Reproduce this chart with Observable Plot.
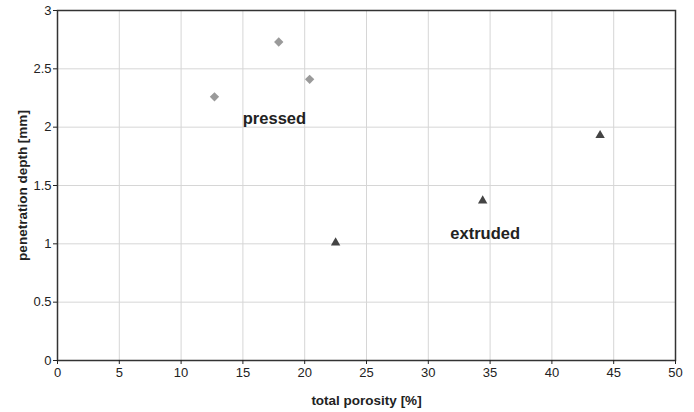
<!DOCTYPE html>
<html>
<head>
<meta charset="utf-8">
<script src="https://cdn.jsdelivr.net/npm/d3@7"></script>
<script src="https://cdn.jsdelivr.net/npm/@observablehq/plot@0.6"></script>
<style>
  body { margin: 0; background: #fff; }
  svg { font-family: "Liberation Sans", Arial, sans-serif; }
  g[aria-label="x-axis label"] text, g[aria-label="y-axis label"] text { font-weight: bold; font-size: 13.5px; }
</style>
</head>
<body>
<div id="chart"></div>
<script>
const pressedX = [12.7, 17.9, 20.4];
const pressedY = [2.26, 2.73, 2.41];
const extrudedX = [22.5, 34.4, 43.9];
const extrudedY = [1.01, 1.37, 1.93];
const xTicks = [0, 5, 10, 15, 20, 25, 30, 35, 40, 45, 50];
const yTicks = [0, 0.5, 1, 1.5, 2, 2.5, 3];
const groupLabels = ["pressed", "extruded"];
const labelX = [17.55, 34.6];
const labelY = [2.07, 1.09];

const pressed = pressedX.map((x, i) => ({x, y: pressedY[i]}));
const extruded = extrudedX.map((x, i) => ({x, y: extrudedY[i]}));
const labels = groupLabels.map((t, i) => ({t, x: labelX[i], y: labelY[i]}));

const chart = Plot.plot({
  width: 694,
  height: 412,
  marginLeft: 57,
  marginRight: 19,
  marginTop: 10,
  marginBottom: 52,
  style: {fontSize: "13px", fontFamily: "Liberation Sans, Arial, sans-serif", color: "#222"},
  x: {domain: [0, 50]},
  y: {domain: [0, 3]},
  marks: [
    Plot.gridX(xTicks, {stroke: "#d6d6d6", strokeOpacity: 1}),
    Plot.gridY(yTicks, {stroke: "#d6d6d6", strokeOpacity: 1}),
    Plot.frame({stroke: "#333", strokeWidth: 1.5}),
    Plot.axisX({ticks: xTicks, tickSize: 4, tickPadding: 3, label: "total porosity [%]", labelAnchor: "center", labelArrow: "none", labelOffset: 44}),
    Plot.axisY({ticks: yTicks, tickSize: 4, tickPadding: 2, tickFormat: d => String(d), label: "penetration depth [mm]", labelAnchor: "center", labelArrow: "none", labelOffset: 40}),
    Plot.dot(pressed, {x: "x", y: "y", symbol: "diamond2", r: 4.2, fill: "#9a9a9a", stroke: "none"}),
    Plot.dot(extruded, {x: "x", y: "y", symbol: "triangle2", r: 4.5, fill: "#444", stroke: "none"}),
    Plot.text(labels, {x: "x", y: "y", text: "t", fontSize: 16.5, fontWeight: "bold", fill: "#222"})
  ]
});
document.getElementById("chart").appendChild(chart);
</script>
</body>
</html>
